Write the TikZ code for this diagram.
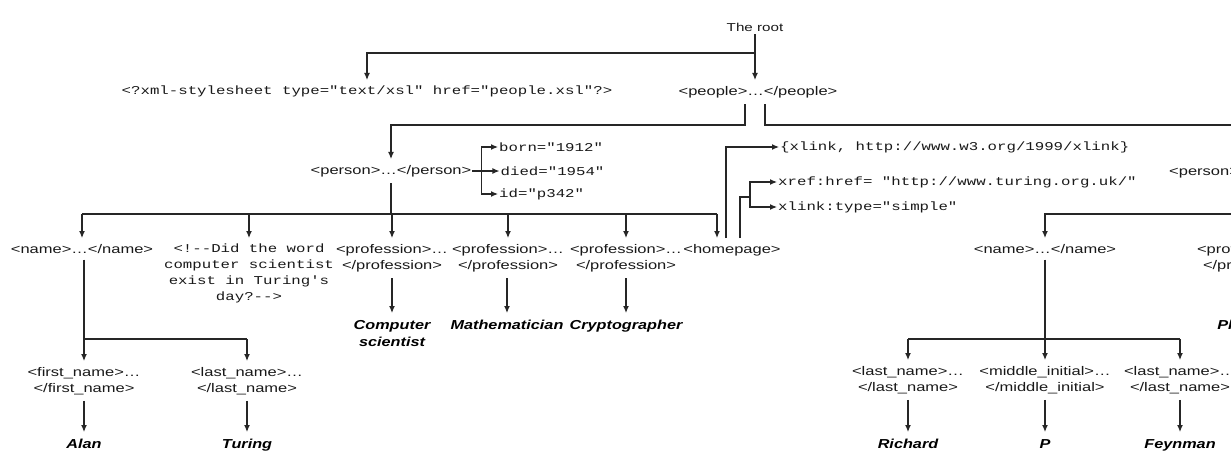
\documentclass[tikz,border=0pt]{standalone}
\usepackage{fontspec}
\usepackage{tikz}
\usetikzlibrary{arrows.meta}
\newfontfamily\tagfont[FakeStretch=1.32]{Liberation Sans}
\newfontfamily\valfont[FakeStretch=1.25]{Liberation Sans}
\newfontfamily\codefont[FakeStretch=1.31,Ligatures=TeXOff]{Liberation Mono}

\tikzset{
  tag/.style={font=\tagfont\fontsize{12.5}{16}\selectfont, inner xsep=1pt, inner ysep=6pt, align=center, text=black!90},
  code/.style={font=\codefont\fontsize{12}{16}\selectfont, inner xsep=1pt, inner ysep=6pt, align=center, text=black!90},
  value/.style={font=\valfont\bfseries\itshape\fontsize{13}{17}\selectfont, inner xsep=1pt, inner ysep=7pt, align=center},
  link/.style={line width=1.2pt, draw=black!85},
  arr/.style={link, -{Latex[length=7pt,width=6pt]}},
}

\begin{document}
\begin{tikzpicture}[x=1pt, y=-1pt]
\useasboundingbox (0,0) rectangle (1231,457);
\fill[white] (0,0) rectangle (1231,457);
\clip (0,0) rectangle (1231,457);

% the root
\node[tag, font=\tagfont\fontsize{11.5}{14}\selectfont, inner ysep=3pt] (root) at (755,27) {The root};
\coordinate (rootfork) at (755,53);
\node[code, anchor=north] (sheet) at (367,80) {<?xml-stylesheet type="text/xsl" href="people.xsl"?>};
\node[tag, anchor=north] (people) at (758,80) {<people>…</people>};
\draw[link] (root) -- (rootfork);
\draw[arr] (rootfork) -| (sheet.north);
\draw[arr] (rootfork) -- (rootfork |- people.north);

% people
\coordinate (leftbus) at (745,125);
\coordinate (rightbus) at (765,125);
\coordinate (edgeA) at (1231,125);
\node[tag, anchor=north] (person) at (391,159) {<person>…</person>};
\node[tag, anchor=west] (person2) at (1168,172) {<person>…</person>};
\draw[arr] (leftbus |- people.south) -- (leftbus) -| (person.north);
\draw[link] (rightbus |- people.south) -- (rightbus) -- (edgeA);

% attributes of person
\draw[link] (person.east) -- ++(9,0) coordinate (attr);
\node[code, anchor=west] (born) at (498,147) {born="1912"};
\node[code, anchor=west] (died) at ([xshift=18pt]attr) {died="1954"};
\node[code, anchor=west] (id) at (498,194) {id="p342"};
\draw[arr] (attr) |- (born.west);
\draw[arr] (attr) -- (died.west);
\draw[arr] (attr) |- (id.west);

% children of person
\coordinate (personbus) at (391,214);
\node[tag, anchor=north] (name) at (82,238) {<name>…</name>};
\node[code, anchor=north] (comment) at (249,238) {<!-{}-Did the word\\computer scientist\\exist in Turing's\\day?-{}->};
\node[tag, anchor=north] (prof1) at (392,238) {<profession>…\\</profession>};
\node[tag, anchor=north] (prof2) at (508,238) {<profession>…\\</profession>};
\node[tag, anchor=north] (prof3) at (626,238) {<profession>…\\</profession>};
\node[tag, anchor=north] (home) at (732,238) {<homepage>};
\draw[link] (person.south) -- (personbus);
\draw[link] (name.north |- personbus) -- ([xshift=-15pt]home.north |- personbus);
\foreach \n in {name,comment,prof1,prof2,prof3}
  \draw[arr] (\n.north |- personbus) -- (\n.north);
\draw[arr] ([xshift=-15pt]home.north |- personbus) -- ([xshift=-15pt]home.north);

% homepage links
\node[code, anchor=west] (xmlns) at (779,147) {\{xlink, http://www.w3.org/1999/xlink\}};
\node[code, anchor=west] (xref) at (777,182) {xref:href= "http://www.turing.org.uk/"};
\node[code, anchor=west] (xtype) at (777,207) {xlink:type="simple"};
\coordinate (homefork) at (750,197);
\draw[arr] ([xshift=-6pt]home.north) |- (xmlns.west);
\draw[link] ([xshift=8pt]home.north) |- (homefork);
\draw[arr] (homefork) |- (xref.west);
\draw[arr] (homefork) |- (xtype.west);

% professions
\node[value, anchor=north] (compsci) at (392,313) {Computer\\scientist};
\node[value, anchor=north] (math) at (507,313) {Mathematician};
\node[value, anchor=north] (crypto) at (626,313) {Cryptographer};
\draw[arr] (prof1.south) -- (compsci.north);
\draw[arr] (prof2.south -| math.north) -- (math.north);
\draw[arr] (prof3.south) -- (crypto.north);

% name of the first person
\coordinate (namebus) at (84,339);
\node[tag, anchor=north] (first) at (84,361) {<first\_name>…\\</first\_name>};
\node[tag, anchor=north] (last) at (247,361) {<last\_name>…\\</last\_name>};
\draw[link] (name.south -| namebus) -- (namebus) -- (last.north |- namebus);
\draw[arr] (namebus) -- (first.north);
\draw[arr] (last.north |- namebus) -- (last.north);
\node[value, anchor=north] (alan) at (84,432) {Alan};
\node[value, anchor=north] (turing) at (247,432) {Turing};
\draw[arr] (first.south) -- (alan.north);
\draw[arr] (last.south) -- (turing.north);

% the second person
\coordinate (edgeB) at (1231,214);
\node[tag, anchor=north] (name2) at (1045,238) {<name>…</name>};
\node[tag, anchor=north] (prof4) at (1253,238) {<profession>…\\</profession>};
\node[value, anchor=north] (physicist) at (1253,313) {Physicist};
\draw[arr] (edgeB) -| (name2.north);

\coordinate (name2bus) at (1045,339);
\node[tag, anchor=north] (lname1) at (908,360) {<last\_name>…\\</last\_name>};
\node[tag, anchor=north] (middle) at (1045,360) {<middle\_initial>…\\</middle\_initial>};
\node[tag, anchor=north] (lname2) at (1180,360) {<last\_name>…\\</last\_name>};
\draw[link] (name2.south) -- (name2bus);
\draw[link] (lname1.north |- name2bus) -- (lname2.north |- name2bus);
\foreach \n in {lname1,middle,lname2}
  \draw[arr] (\n.north |- name2bus) -- (\n.north);
\node[value, anchor=north] (richard) at (908,432) {Richard};
\node[value, anchor=north] (initial) at (1045,432) {P};
\node[value, anchor=north] (feynman) at (1180,432) {Feynman};
\draw[arr] (lname1.south) -- (richard.north);
\draw[arr] (middle.south) -- (initial.north);
\draw[arr] (lname2.south) -- (feynman.north);
\end{tikzpicture}
\end{document}
